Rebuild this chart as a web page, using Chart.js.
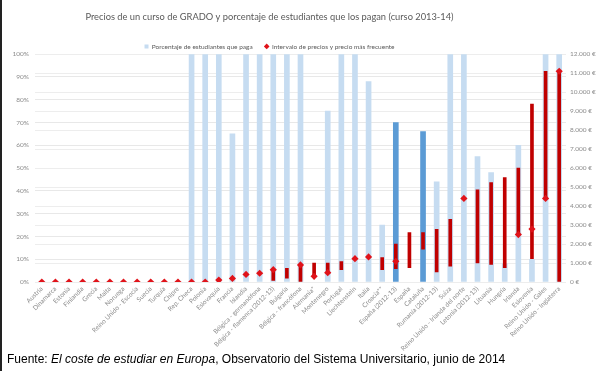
<!DOCTYPE html>
<html><head><meta charset="utf-8">
<script src="https://cdn.jsdelivr.net/npm/chart.js@4.4.1/dist/chart.umd.min.js"></script>
<style>
html,body{margin:0;padding:0;background:#fff;}
#wrap{position:relative;width:597px;height:371px;overflow:hidden;}
#wrap:before{content:"";position:absolute;left:0;top:0;width:2px;height:371px;background:#222;z-index:2;}
canvas{position:absolute;left:0;top:0;}
#src{position:absolute;left:7px;top:352px;font-family:"Liberation Sans",Arial,sans-serif;font-size:12px;color:#000;white-space:nowrap;}
</style></head>
<body><div id="wrap"><canvas id="c" width="597" height="371"></canvas>
<div id="src">Fuente: <i>El coste de estudiar en Europa</i>, Observatorio del Sistema Universitario, junio de 2014</div></div>
<script>
const categories = ["Austria","Dinamarca","Estonia","Finlandia","Grecia","Malta","Noruega","Reino Unido - Escocia","Suecia","Turquía","Chipre","Rep. Checa","Polonia","Eslovaquia","Francia","Islandia","Bélgica - germanófona","Bélgica - flamenca (2012-13)","Bulgaria","Bélgica - francófona","Alemania*","Montenegro","Portugal","Liechtenstein","Italia","Croacia**","España (2012-13)","España","Cataluña","Rumanía (2012-13)","Suiza","Reino Unido - Irlanda del norte","Letonia (2012-13)","Lituania","Hungría","Irlanda","Eslovenia","Reino Unido - Gales","Reino Unido - Inglaterra"];
const pctPaying = [null,null,null,null,null,null,null,null,null,null,null,100,100,100,65,100,100,100,100,100,null,75,100,100,88,25,70,null,66,44,100,100,55,48,8,60,10,100,100];
const priceMin = [null,null,null,null,null,null,null,null,null,null,null,null,null,null,null,null,null,80,200,0,300,490,650,null,null,650,700,750,1730,530,830,null,1000,930,760,2500,1230,4400,0];
const priceMax = [null,null,null,null,null,null,null,null,null,null,null,null,null,null,null,null,null,650,720,900,1000,1000,1070,null,null,1290,2000,2600,2600,2780,3300,null,4850,5230,5500,6000,9370,11100,11100];
const priceFrequent = [0,0,0,0,0,0,0,0,0,0,0,0,0,100,190,400,460,650,null,900,300,490,null,1230,1320,null,1090,null,null,null,null,4400,null,null,null,2500,2790,4400,11100];
const highlighted = ["España (2012-13)","Cataluña"];
const seriesNames = ["Porcentaje de estudiantes que paga","Intervalo de precios y precio más frecuente"];
const titleText = "Precios de un curso de GRADO y porcentaje de estudiantes que los pagan (curso 2013-14)";

const LIGHT = "#C6DCF1", DARK = "#5B9BD5", RED = "#C00000", RED2 = "#E0131A";
const ranges = priceMin.map((m,i)=> (m===null||priceMax[i]===null)? null : [m, priceMax[i]]);
const barColors = categories.map(c => highlighted.includes(c) ? DARK : LIGHT);
const tickColor = "#8C8C8C";
const tickFont = {family:"Lato, 'Liberation Sans', sans-serif", size:6.5};

// header (title + legend) is centred on the original chart frame, slightly left of the page centre
const shiftHeader = {
  id:'shiftHeader',
  afterInit(chart){
    const lg = chart.legend;
    if (lg) {
      const orig = lg.fit.bind(lg);
      lg.fit = function(){ orig(); this.height = 14; };
    }
  },
  afterLayout(chart){
    if (chart.titleBlock) chart.titleBlock.right -= 60;
    if (chart.legend) { chart.legend.right -= 60; chart.legend.top -= 9; }
  }
};

new Chart(document.getElementById('c'), {
  data: {
    labels: categories,
    datasets: [
      {type:'bar', label:seriesNames[0], data:pctPaying, yAxisID:'y', backgroundColor:barColors, barThickness:5, grouped:false, order:3},
      {type:'bar', label:'rango', data:ranges, yAxisID:'y1', backgroundColor:RED, barThickness:3, grouped:false, order:2},
      {type:'line', label:seriesNames[1], data:priceFrequent, yAxisID:'y1', showLine:false, pointStyle:'rectRot', pointRadius:3.6, pointHoverRadius:3.6, backgroundColor:RED2, borderColor:RED2, borderWidth:0, order:1}
    ]
  },
  plugins:[shiftHeader],
  options: {
    responsive:false, animation:false, devicePixelRatio:1,
    layout:{padding:{left:2,right:0,top:0,bottom:0}},
    plugins:{
      tooltip:{enabled:false},
      title:{display:true, text:titleText, color:"#595959", font:{family:"Lato, 'Liberation Sans', sans-serif", size:9.3, weight:'normal'}, padding:{top:11,bottom:18}},
      legend:{display:true, position:'top', labels:{
        usePointStyle:true, boxWidth:4, boxHeight:4, padding:12, color:"#595959",
        font:{family:"Lato, 'Liberation Sans', sans-serif", size:6.5},
        generateLabels:(chart)=>{
          return [
            {text:seriesNames[0], fillStyle:LIGHT, strokeStyle:LIGHT, lineWidth:0, pointStyle:'rect', datasetIndex:0, fontColor:"#595959"},
            {text:seriesNames[1], fillStyle:RED2, strokeStyle:RED2, lineWidth:0, pointStyle:'rectRot', datasetIndex:2, fontColor:"#595959"}
          ];
        }
      }}
    },
    scales:{
      x:{
        offset:true,
        grid:{display:false, drawTicks:false},
        border:{display:false},
        ticks:{autoSkip:false, maxRotation:45, minRotation:45, color:tickColor, font:tickFont, padding:3},
        afterFit:(s)=>{ s.height = 89; }
      },
      y:{
        position:'left', min:0, max:100,
        ticks:{stepSize:10, color:tickColor, font:tickFont, callback:(v)=> v+'%', padding:6},
        grid:{color:"#E8E8E8", drawTicks:false, lineWidth:1},
        border:{display:false},
        afterFit:(s)=>{ s.width = 33; }
      },
      y1:{
        position:'right', min:0, max:12000,
        ticks:{stepSize:1000, color:tickColor, font:tickFont, padding:4,
          callback:(v)=> (v===0? '0' : v.toLocaleString('de-DE')) + ' €'},
        grid:{color:"#EDEDED", drawTicks:false, lineWidth:1},
        border:{display:false},
        afterFit:(s)=>{ s.width = 31; }
      }
    }
  }
});
</script>
</body></html>
